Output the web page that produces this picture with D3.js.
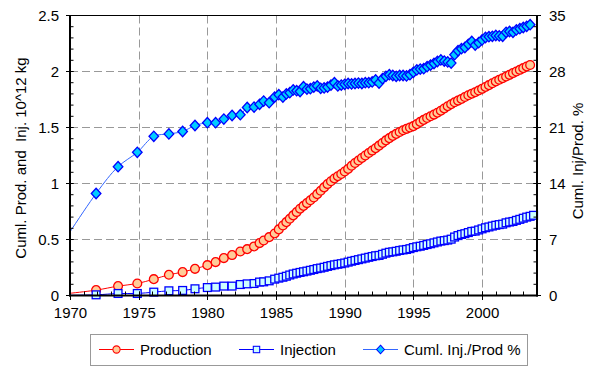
<!DOCTYPE html>
<html lang="en">
	<head>
		<meta charset="utf-8">
		<title>Cumulative production and injection</title>
		<script type="text/javascript" src="https://d3js.org/d3.v7.min.js"></script>
		<style type="text/css">
			body { margin: 0; background: #fff; }
			svg { font-family: "Liberation Sans", Arial, sans-serif; }
			.lbl { font-size: 15px; fill: #000; }
		</style>
	</head>
	<body>
		<script type="text/javascript">

			var w = 593;
			var h = 367;

			// decimal years of the records (first one sits before 1970, off the plot)
			var years = [1968.5, 1971.9, 1973.5, 1974.9, 1976.1, 1977.2, 1978.2, 1979.1, 1980.0, 1980.6,
				1981.2, 1981.8, 1982.4, 1982.9, 1983.4, 1983.8, 1984.1, 1984.5, 1984.9, 1985.2,
				1985.5, 1985.75,
				1986, 1986.25, 1986.5, 1986.75, 1987, 1987.25, 1987.5, 1987.75,
				1988, 1988.25, 1988.5, 1988.75, 1989, 1989.25, 1989.5, 1989.75,
				1990, 1990.25, 1990.5, 1990.75, 1991, 1991.25, 1991.5, 1991.75,
				1992, 1992.25, 1992.5, 1992.75, 1993, 1993.25, 1993.5, 1993.75,
				1994, 1994.25, 1994.5, 1994.75, 1995, 1995.25, 1995.5, 1995.75,
				1996, 1996.25, 1996.5, 1996.75, 1997, 1997.25, 1997.5, 1997.75,
				1998, 1998.25, 1998.5, 1998.75, 1999, 1999.25, 1999.5, 1999.75,
				2000, 2000.25, 2000.5, 2000.75, 2001, 2001.25, 2001.5, 2001.75,
				2002, 2002.25, 2002.5, 2002.75, 2003, 2003.25, 2003.5, 2003.75];

			// cumulative production, 10^12 kg
			var production = [0, 0.048, 0.084, 0.107, 0.146, 0.185, 0.209, 0.238, 0.271, 0.298,
				0.334, 0.361, 0.393, 0.414, 0.438, 0.468, 0.491, 0.521, 0.554, 0.59,
				0.625, 0.655,
				0.685, 0.715, 0.745, 0.775, 0.80, 0.825, 0.85, 0.875,
				0.905, 0.935, 0.965, 0.995, 1.02, 1.045, 1.065, 1.085,
				1.107, 1.13, 1.158, 1.183, 1.205, 1.228, 1.25, 1.272,
				1.294, 1.315, 1.338, 1.362, 1.385, 1.405, 1.425, 1.443,
				1.46, 1.475, 1.488, 1.5, 1.512, 1.53, 1.55, 1.568,
				1.585, 1.6, 1.615, 1.632, 1.65, 1.67, 1.69, 1.708,
				1.725, 1.74, 1.755, 1.772, 1.788, 1.802, 1.815, 1.83,
				1.845, 1.862, 1.878, 1.895, 1.911, 1.926, 1.94, 1.955,
				1.97, 1.986, 2.0, 2.015, 2.03, 2.045, 2.058, null];

			// cumulative injection, 10^12 kg
			var injection = [0, 0.006, 0.018, 0.018, 0.030, 0.042, 0.045, 0.060, 0.071, 0.075,
				0.084, 0.084, 0.098, 0.104, 0.107, 0.120, 0.122, 0.131, 0.146, 0.155,
				0.163, 0.172,
				0.183, 0.192, 0.199, 0.206, 0.212, 0.218, 0.225, 0.232,
				0.24, 0.245, 0.252, 0.26, 0.267, 0.274, 0.279, 0.284,
				0.29, 0.298, 0.306, 0.313, 0.32, 0.327, 0.334, 0.341,
				0.348, 0.355, 0.358, 0.368, 0.378, 0.386, 0.39, 0.395,
				0.402, 0.407, 0.411, 0.418, 0.428, 0.435, 0.44, 0.447,
				0.455, 0.462, 0.47, 0.478, 0.486, 0.49, 0.495, 0.503,
				0.522, 0.535, 0.545, 0.552, 0.562, 0.572, 0.575, 0.585,
				0.595, 0.605, 0.612, 0.62, 0.627, 0.633, 0.637, 0.649,
				0.656, 0.661, 0.671, 0.68, 0.69, 0.7, 0.707, 0.716];

			// cumulative injection / production, %
			var ratio = [4, 12.75, 16.1, 17.9, 19.9, 20.2, 20.5, 21.25, 21.6, 21.6,
				22.05, 22.5, 22.6, 23.5, 23.55, 23.9, 24.3, 24.1, 24.8, 25.1,
				24.8, 25.2,
				25.35, 25.7, 25.6, 25.5, 26.1, 25.8, 25.85, 26.05,
				26.2, 25.9, 25.95, 26.05, 26.3, 26.6, 26.2, 26.3,
				26.4, 26.5, 26.45, 26.5, 26.55, 26.5, 26.6, 26.6,
				26.7, 26.95, 26.55, 27.1, 27.4, 27.6, 27.5, 27.4,
				27.5, 27.5, 27.45, 27.6, 27.9, 28.2, 28.3, 28.35,
				28.6, 28.8, 29.0, 29.25, 29.45, 29.3, 29.2, 29.05,
				30.1, 30.6, 30.85, 31.0, 31.4, 31.75, 31.3, 31.6,
				31.95, 32.25, 32.35, 32.4, 32.5, 32.45, 32.4, 32.9,
				33.0, 32.9, 33.2, 33.35, 33.5, 33.65, 33.85, null];

			var xTicks = [1970, 1975, 1980, 1985, 1990, 1995, 2000];
			var leftTicks = [0, 0.5, 1, 1.5, 2, 2.5];
			var rightTicks = [0, 7, 14, 21, 28, 35];

			var svg = d3.select("body")
						.append("svg")
						.attr("width", w)
						.attr("height", h);

			var x = d3.scaleLinear().domain([1970, 2004]).range([70, 537]);
			var yL = d3.scaleLinear().domain([0, 2.5]).range([295.5, 15.5]);
			var yR = d3.scaleLinear().domain([0, 35]).range([295.5, 15.5]);

			svg.append("clipPath").attr("id", "plot")
				.append("rect")
				.attr("x", 70).attr("y", 15).attr("width", 467).attr("height", 281);

			// grid
			svg.selectAll("line.hgrid")
				.data([0.5, 1, 1.5, 2])
				.enter().append("line")
				.attr("x1", 70).attr("x2", 537)
				.attr("y1", function(d){ return yL(d); })
				.attr("y2", function(d){ return yL(d); })
				.style("stroke", "#999").style("stroke-dasharray", "8,4");
			svg.selectAll("line.vgrid")
				.data(xTicks.slice(1))
				.enter().append("line")
				.attr("y1", 15.5).attr("y2", 295.5)
				.attr("x1", function(d){ return Math.round(x(d)) + 0.5; })
				.attr("x2", function(d){ return Math.round(x(d)) + 0.5; })
				.style("stroke", "#999").style("stroke-dasharray", "8,4");

			// series
			var series = [
				{name: "Production", vals: production, y: yL, line: "#ff0000", fill: "#ffcc99", stroke: "#ff0000", shape: "circle"},
				{name: "Injection", vals: injection, y: yL, line: "#0000ff", fill: "#ccffff", stroke: "#0000ff", shape: "square"},
				{name: "Cuml. Inj./Prod %", vals: ratio, y: yR, line: "#3366ff", fill: "#00ccff", stroke: "#0000ff", shape: "diamond"}
			];

			function marker(g, s) {
				if (s.shape == "circle") {
					g.append("circle").attr("r", 4.4);
				} else if (s.shape == "square") {
					g.append("rect").attr("x", -3.9).attr("y", -3.9).attr("width", 7.8).attr("height", 7.8);
				} else {
					g.append("path").attr("d", "M0,-5.2L4.8,0L0,5.2L-4.8,0Z");
				}
				g.selectAll("*").style("fill", s.fill).style("stroke", s.stroke).style("stroke-width", 1.3);
			}

			series.forEach(function(s){
				var pts = years.map(function(yr, i){ return [yr, s.vals[i]]; })
					.filter(function(p){ return p[1] != null; });

				var line = d3.line()
					.x(function(d){ return x(d[0]); })
					.y(function(d){ return s.y(d[1]); })
					.curve(d3.curveCatmullRom.alpha(0.5));

				svg.append("path")
					.datum(pts)
					.attr("d", line)
					.attr("clip-path", "url(#plot)")
					.style("fill", "none")
					.style("stroke", s.line)
					.style("stroke-width", 1);

				svg.selectAll("g.m-" + s.shape)
					.data(pts.filter(function(p){ return p[0] >= 1970; }))
					.enter().append("g")
					.attr("class", "m-" + s.shape)
					.attr("transform", function(d){ return "translate(" + x(d[0]) + "," + s.y(d[1]) + ")"; })
					.each(function(){ marker(d3.select(this), s); });
			});

			// frame: top line, then axes
			svg.append("line").attr("x1", 70).attr("x2", 537).attr("y1", 15.5).attr("y2", 15.5)
				.style("stroke", "#000").style("stroke-width", 1.2);

			var axisCol = "#000";
			svg.append("line").attr("x1", 70).attr("x2", 70).attr("y1", 15).attr("y2", 296.5)
				.style("stroke", axisCol).style("stroke-width", 2);
			svg.append("line").attr("x1", 537).attr("x2", 537).attr("y1", 15).attr("y2", 296.5)
				.style("stroke", axisCol).style("stroke-width", 2);
			svg.append("line").attr("x1", 69).attr("x2", 538).attr("y1", 295.5).attr("y2", 295.5)
				.style("stroke", axisCol).style("stroke-width", 2);

			// minor ticks point into the plot, major ticks cross the axis
			var minorL = d3.range(0, 26).map(function(i){ return i / 10; });
			var minorR = d3.range(0, 26).map(function(i){ return i * 1.4; });
			var minorX = d3.range(1970, 2004);

			svg.selectAll("line.mtl").data(minorL).enter().append("line")
				.attr("x1", 70).attr("x2", 73.5)
				.attr("y1", function(d){ return yL(d); }).attr("y2", function(d){ return yL(d); })
				.style("stroke", "#000");
			svg.selectAll("line.tl").data(leftTicks).enter().append("line")
				.attr("x1", 66).attr("x2", 73.5)
				.attr("y1", function(d){ return yL(d); }).attr("y2", function(d){ return yL(d); })
				.style("stroke", "#000");
			svg.selectAll("line.mtr").data(minorR).enter().append("line")
				.attr("x1", 533.5).attr("x2", 537)
				.attr("y1", function(d){ return yR(d); }).attr("y2", function(d){ return yR(d); })
				.style("stroke", "#000");
			svg.selectAll("line.tr").data(rightTicks).enter().append("line")
				.attr("x1", 533.5).attr("x2", 541)
				.attr("y1", function(d){ return yR(d); }).attr("y2", function(d){ return yR(d); })
				.style("stroke", "#000");
			svg.selectAll("line.mtx").data(minorX).enter().append("line")
				.attr("y1", 295.5).attr("y2", 291.5)
				.attr("x1", function(d){ return Math.round(x(d)) + 0.5; })
				.attr("x2", function(d){ return Math.round(x(d)) + 0.5; })
				.style("stroke", "#000");
			svg.selectAll("line.tx").data(xTicks).enter().append("line")
				.attr("y1", 291.5).attr("y2", 300)
				.attr("x1", function(d){ return Math.round(x(d)) + 0.5; })
				.attr("x2", function(d){ return Math.round(x(d)) + 0.5; })
				.style("stroke", "#000");

			// tick labels through d3 axes
			var axL = svg.append("g").attr("transform", "translate(70,0)")
				.call(d3.axisLeft(yL).tickValues(leftTicks).tickSize(0).tickPadding(11)
					.tickFormat(function(d){ return String(d); }));
			var axR = svg.append("g").attr("transform", "translate(537,0)")
				.call(d3.axisRight(yR).tickValues(rightTicks).tickSize(0).tickPadding(12));
			var axX = svg.append("g").attr("transform", "translate(0,295.5)")
				.call(d3.axisBottom(x).tickValues(xTicks).tickSize(0).tickPadding(12)
					.tickFormat(d3.format("d")));
			[axL, axR, axX].forEach(function(a){
				a.select(".domain").remove();
				a.selectAll("text").attr("class", "lbl").style("font-size", "15px")
					.style("font-family", "'Liberation Sans', Arial, sans-serif");
			});

			// axis titles
			svg.append("text").attr("class", "lbl")
				.attr("transform", "translate(26,158) rotate(-90)")
				.attr("text-anchor", "middle")
				.text("Cuml. Prod. and\u00a0 Inj. 10^12 kg");
			svg.append("text").attr("class", "lbl")
				.attr("transform", "translate(583,161) rotate(-90)")
				.attr("text-anchor", "middle")
				.text("Cuml. Inj/Prod. %");

			// legend
			var lg = svg.append("g");
			lg.append("rect").attr("x", 90.5).attr("y", 334.5).attr("width", 437).attr("height", 31)
				.style("fill", "#fff").style("stroke", "#999");
			var lx = [99, 239, 363];
			series.forEach(function(s, i){
				var g = lg.append("g");
				g.append("line").attr("x1", lx[i]).attr("x2", lx[i] + 35).attr("y1", 349.5).attr("y2", 349.5)
					.style("stroke", s.line);
				var m = g.append("g").attr("transform", "translate(" + (lx[i] + 17.5) + ",349.5)");
				marker(m, s);
				m.selectAll("*").attr("transform", "scale(0.82)");
				g.append("text").attr("class", "lbl")
					.attr("x", lx[i] + 41).attr("y", 355)
					.text(s.name);
			});

		</script>
	</body>
</html>
